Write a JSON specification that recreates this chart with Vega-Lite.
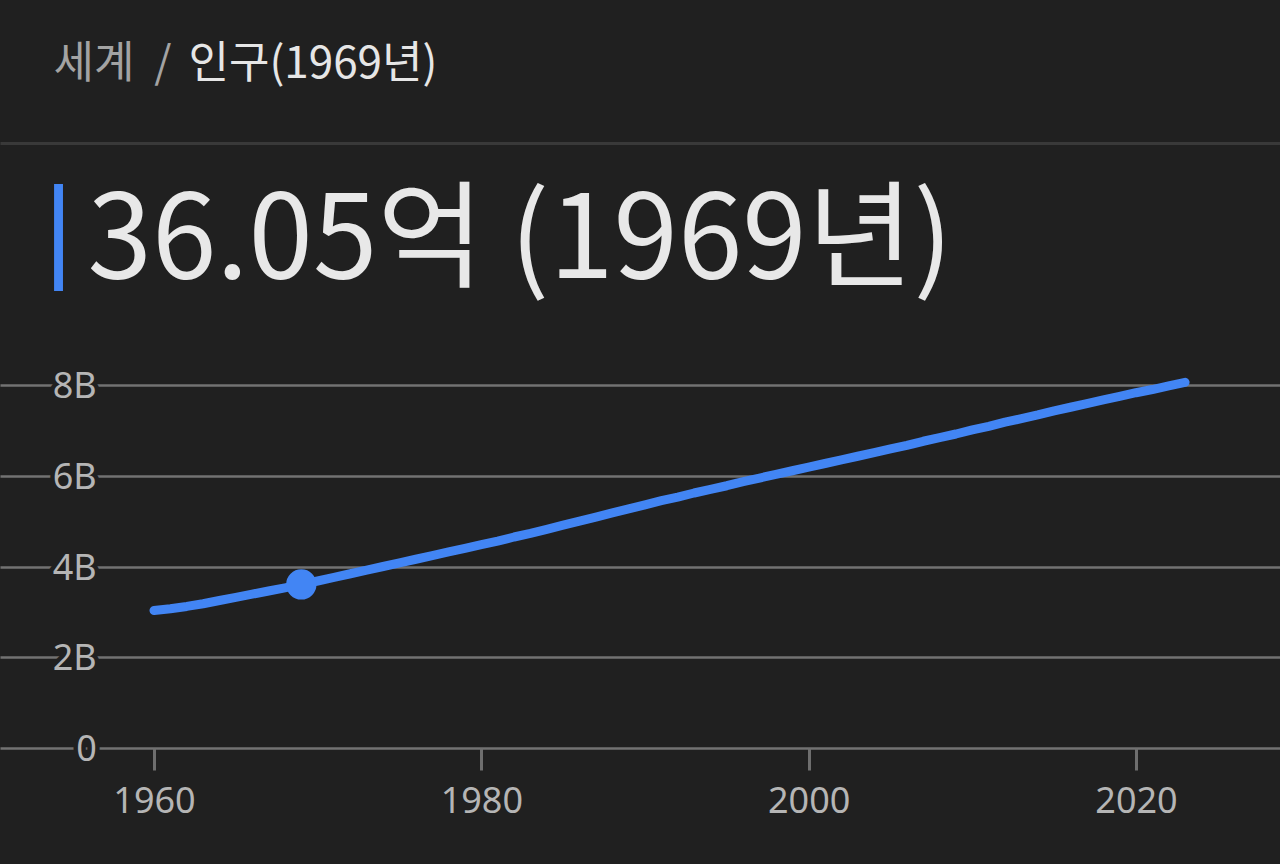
{
  "$schema": "https://vega.github.io/schema/vega-lite/v6.json",
  "width": 1280,
  "height": 363,
  "autosize": {"type": "none"},
  "padding": {"top": 385, "left": 0, "right": 0, "bottom": 116},
  "background": "#202020",
  "config": {
    "view": {"stroke": null},
    "axis": {"titleFontWeight": "normal", "labelFontWeight": "normal"}
  },
  "datasets": {
    "pop": [
      {"year": 1960, "pop": 3030000000}, {"year": 1961, "pop": 3070000000}, {"year": 1962, "pop": 3120000000},
      {"year": 1963, "pop": 3180000000}, {"year": 1964, "pop": 3250000000}, {"year": 1965, "pop": 3320000000},
      {"year": 1966, "pop": 3390000000}, {"year": 1967, "pop": 3460000000}, {"year": 1968, "pop": 3530000000},
      {"year": 1969, "pop": 3605000000}, {"year": 1970, "pop": 3680000000}, {"year": 1971, "pop": 3760000000},
      {"year": 1972, "pop": 3840000000}, {"year": 1973, "pop": 3920000000}, {"year": 1974, "pop": 4000000000},
      {"year": 1975, "pop": 4080000000}, {"year": 1976, "pop": 4160000000}, {"year": 1977, "pop": 4240000000},
      {"year": 1978, "pop": 4320000000}, {"year": 1979, "pop": 4400000000}, {"year": 1980, "pop": 4480000000},
      {"year": 1981, "pop": 4560000000}, {"year": 1982, "pop": 4650000000}, {"year": 1983, "pop": 4730000000},
      {"year": 1984, "pop": 4820000000}, {"year": 1985, "pop": 4910000000}, {"year": 1986, "pop": 5000000000},
      {"year": 1987, "pop": 5090000000}, {"year": 1988, "pop": 5180000000}, {"year": 1989, "pop": 5270000000},
      {"year": 1990, "pop": 5360000000}, {"year": 1991, "pop": 5450000000}, {"year": 1992, "pop": 5530000000},
      {"year": 1993, "pop": 5620000000}, {"year": 1994, "pop": 5700000000}, {"year": 1995, "pop": 5780000000},
      {"year": 1996, "pop": 5870000000}, {"year": 1997, "pop": 5950000000}, {"year": 1998, "pop": 6030000000},
      {"year": 1999, "pop": 6110000000}, {"year": 2000, "pop": 6190000000}, {"year": 2001, "pop": 6270000000},
      {"year": 2002, "pop": 6350000000}, {"year": 2003, "pop": 6430000000}, {"year": 2004, "pop": 6510000000},
      {"year": 2005, "pop": 6590000000}, {"year": 2006, "pop": 6670000000}, {"year": 2007, "pop": 6760000000},
      {"year": 2008, "pop": 6840000000}, {"year": 2009, "pop": 6920000000}, {"year": 2010, "pop": 7010000000},
      {"year": 2011, "pop": 7090000000}, {"year": 2012, "pop": 7180000000}, {"year": 2013, "pop": 7260000000},
      {"year": 2014, "pop": 7340000000}, {"year": 2015, "pop": 7430000000}, {"year": 2016, "pop": 7510000000},
      {"year": 2017, "pop": 7590000000}, {"year": 2018, "pop": 7670000000}, {"year": 2019, "pop": 7750000000},
      {"year": 2020, "pop": 7830000000}, {"year": 2021, "pop": 7900000000}, {"year": 2022, "pop": 7980000000},
      {"year": 2023, "pop": 8060000000}
    ],
    "ticks": [
      {"v": 0, "label": "0"},
      {"v": 2000000000, "label": "2B"},
      {"v": 4000000000, "label": "4B"},
      {"v": 6000000000, "label": "6B"},
      {"v": 8000000000, "label": "8B"}
    ]
  },
  "resolve": {"axis": {"x": "independent", "y": "independent"}},
  "layer": [
    {
      "data": {"name": "pop"},
      "mark": {"type": "line", "color": "#4285f4", "strokeWidth": 9, "strokeCap": "round", "strokeJoin": "round"},
      "encoding": {
        "x": {
          "field": "year", "type": "quantitative",
          "scale": {"domain": [1950.59, 2028.8], "nice": false, "zero": false},
          "axis": {
            "orient": "bottom", "values": [1960, 1980, 2000, 2020], "format": "d",
            "grid": false, "domain": false,
            "ticks": true, "tickSize": 22, "tickColor": "#6e6e6e", "tickWidth": 3,
            "labelFont": "Noto Sans", "labelFontSize": 36, "labelColor": "#b5b5b5",
            "labelBaseline": "alphabetic", "labelPadding": 42,
            "title": "세계\u00a0 /", "titleFont": "Noto Sans CJK KR", "titleFontSize": 44,
            "titleColor": "#a3a3a3", "titleX": 53, "titleY": -671,
            "titleAlign": "left", "titleBaseline": "alphabetic"
          }
        },
        "y": {
          "field": "pop", "type": "quantitative",
          "scale": {"domain": [0, 8000000000], "nice": false},
          "axis": {
            "orient": "left", "values": [0, 2000000000, 4000000000, 6000000000, 8000000000],
            "grid": true, "gridColor": "#727272", "gridWidth": 2.5,
            "labels": false, "ticks": false, "domain": false,
            "title": "|", "titleFont": "DejaVu Sans", "titleFontSize": 107,
            "titleColor": "#4285f4", "titleAngle": 0, "titleX": 58, "titleY": -121,
            "titleAlign": "center", "titleBaseline": "alphabetic"
          }
        }
      }
    },
    {
      "data": {"name": "ticks"},
      "mark": {"type": "text", "align": "right", "baseline": "alphabetic", "dy": 13,
               "font": "Noto Sans", "fontSize": 36, "fill": "#202020", "stroke": "#202020", "strokeWidth": 9},
      "encoding": {
        "x": {"datum": 1956.5, "type": "quantitative", "axis": null},
        "y": {"field": "v", "type": "quantitative", "axis": null},
        "text": {"field": "label"}
      }
    },
    {
      "data": {"name": "ticks"},
      "mark": {"type": "text", "align": "right", "baseline": "alphabetic", "dy": 13,
               "font": "Noto Sans", "fontSize": 36, "color": "#b5b5b5"},
      "encoding": {
        "x": {"datum": 1956.5, "type": "quantitative", "axis": null},
        "y": {"field": "v", "type": "quantitative", "axis": null},
        "text": {"field": "label"}
      }
    },
    {
      "data": {"name": "pop"},
      "transform": [{"filter": "datum.year == 1969"}],
      "mark": {"type": "point", "filled": true, "size": 920, "color": "#4285f4", "opacity": 1},
      "encoding": {
        "x": {
          "field": "year", "type": "quantitative",
          "axis": {
            "orient": "top", "offset": 242, "labels": false, "ticks": false, "grid": false,
            "domain": true, "domainColor": "#393939", "domainWidth": 3,
            "title": "인구(1969년)", "titleFont": "Noto Sans CJK KR", "titleFontSize": 44,
            "titleColor": "#e6e6e6", "titleX": 188, "titleY": -66,
            "titleAlign": "left", "titleBaseline": "alphabetic"
          }
        },
        "y": {
          "field": "pop", "type": "quantitative",
          "axis": {
            "orient": "right", "labels": false, "ticks": false, "grid": false, "domain": false,
            "title": "36.05억 (1969년)", "titleFont": "Noto Sans CJK KR", "titleFontSize": 116,
            "titleColor": "#e8e8e8", "titleAngle": 0, "titleX": -1193, "titleY": -108,
            "titleAlign": "left", "titleBaseline": "alphabetic"
          }
        }
      }
    }
  ]
}
